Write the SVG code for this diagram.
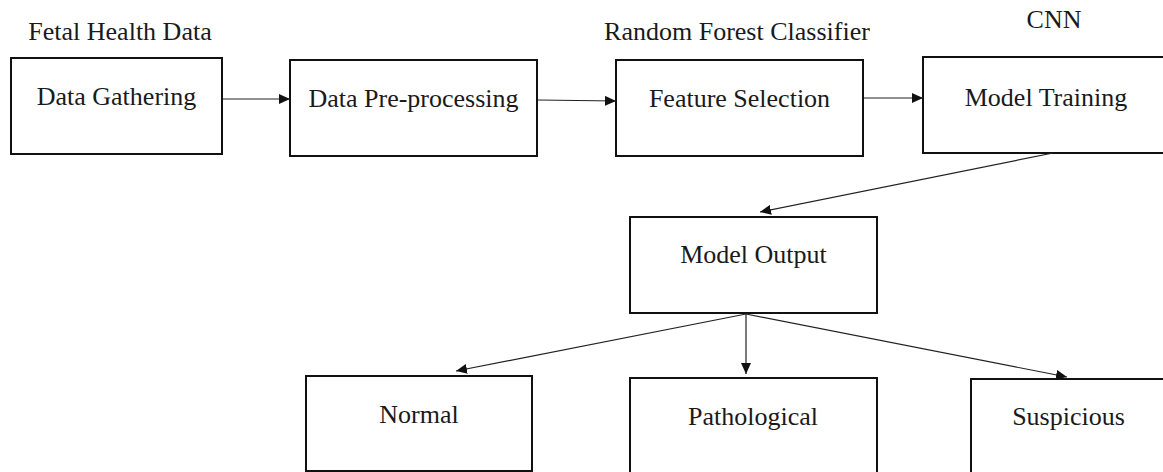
<svg xmlns="http://www.w3.org/2000/svg" width="1163" height="472" viewBox="0 0 1163 472">
  <style>
    .box { fill: #ffffff; stroke: #111111; stroke-width: 2; }
    .lbl { font-family: "Liberation Serif", "Times New Roman", serif; font-size: 26px; fill: #1a1a1a; text-anchor: middle; }
    .conn { stroke: #222222; stroke-width: 1.2; fill: none; marker-end: url(#arrow); }
  </style>
  <defs>
    <marker id="arrow" markerUnits="userSpaceOnUse" markerWidth="11" markerHeight="10" refX="11" refY="5" orient="auto">
      <path d="M0,0 L11,5 L0,10 z" fill="#111111"/>
    </marker>
  </defs>
  <rect width="1163" height="472" fill="#ffffff"/>

  <!-- stage annotations -->
  <text class="lbl" x="120" y="40">Fetal Health Data</text>
  <text class="lbl" x="737" y="40">Random Forest Classifier</text>
  <text class="lbl" x="1054" y="28">CNN</text>

  <g id="data-gathering">
    <rect class="box" x="11" y="58" width="211" height="96"/>
    <text class="lbl" x="116.5" y="105">Data Gathering</text>
  </g>
  <g id="data-preprocessing">
    <rect class="box" x="290" y="60" width="247" height="96"/>
    <text class="lbl" x="413.5" y="107">Data Pre-processing</text>
  </g>
  <g id="feature-selection">
    <rect class="box" x="616" y="60" width="247" height="96"/>
    <text class="lbl" x="739.5" y="107">Feature Selection</text>
  </g>
  <g id="model-training">
    <rect class="box" x="923" y="57" width="246" height="96"/>
    <text class="lbl" x="1046" y="106">Model Training</text>
  </g>
  <g id="model-output">
    <rect class="box" x="630" y="217" width="247" height="96"/>
    <text class="lbl" x="753.5" y="263">Model Output</text>
  </g>
  <g id="normal">
    <rect class="box" x="306" y="376" width="226" height="95"/>
    <text class="lbl" x="419" y="423">Normal</text>
  </g>
  <g id="pathological">
    <rect class="box" x="630" y="378" width="247" height="96"/>
    <text class="lbl" x="753" y="425">Pathological</text>
  </g>
  <g id="suspicious">
    <rect class="box" x="971" y="379" width="196" height="96"/>
    <text class="lbl" x="1068.5" y="425">Suspicious</text>
  </g>

  <g id="connectors">
    <line class="conn" x1="223" y1="99" x2="290" y2="99"/>
    <line class="conn" x1="538" y1="100" x2="616" y2="101"/>
    <line class="conn" x1="864" y1="98" x2="923" y2="98"/>
    <line class="conn" x1="1053" y1="153" x2="760" y2="212"/>
    <line class="conn" x1="746" y1="314" x2="456" y2="371"/>
    <line class="conn" x1="746" y1="314" x2="746" y2="374"/>
    <line class="conn" x1="746" y1="314" x2="1067" y2="377"/>
  </g>
</svg>
